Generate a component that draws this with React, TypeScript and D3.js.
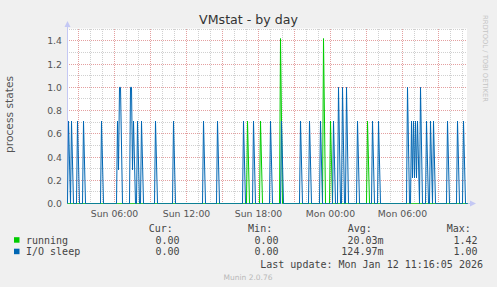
import React from "react";
import * as d3 from "d3";

// ---- data ----
const STEP_MIN = 5; // minutes per sample (one pixel per sample)
const N_SLOTS = 400;
const START = new Date(2026, 0, 11, 2, 5, 0);

const seriesNames = ["running", "I/O sleep"];
const seriesColors = ["#00CC00", "#0066B3"];

// sample index (5-minute steps since START) and value of the non-zero samples
const runningSlots = [180, 193, 213, 256, 263, 300];
const runningValues = [0.71, 0.71, 1.42, 1.42, 0.71, 0.71];

const ioSlots = [
  1, 4, 10, 16, 34, 50, 51, 52, 53, 63, 64, 65, 66, 70, 74, 88, 106, 136, 150,
  176, 186, 203, 214, 233, 242, 253, 266, 271, 275, 279, 290, 305, 311, 340,
  344, 345, 346, 347, 348, 349, 350, 353, 359, 363, 366, 380, 390, 396,
];
const ioValues = [
  0.71, 0.71, 0.71, 0.71, 0.71, 0.71, 0.29, 1.0, 1.0, 1.0, 1.0, 0.29, 0.71,
  0.71, 0.71, 0.71, 0.71, 0.71, 0.71, 0.71, 0.71, 0.71, 0.71, 0.71, 0.71, 0.71,
  0.71, 1.0, 1.0, 1.0, 0.71, 0.71, 0.71, 1.0, 0.71, 0.22, 0.71, 0.22, 0.71,
  0.22, 0.71, 1.0, 0.71, 0.71, 0.71, 0.71, 0.71, 0.71,
];

const yTickValues = [0, 0.2, 0.4, 0.6, 0.8, 1.0, 1.2, 1.4];
const yGridValues = [0.1, 0.2, 0.3, 0.4, 0.5, 0.6, 0.7, 0.8, 0.9, 1.0, 1.1, 1.2, 1.3, 1.4, 1.5];

const legendHeaders = ["Cur:", "Min:", "Avg:", "Max:"];
const curValues = ["0.00", "0.00"];
const minValues = ["0.00", "0.00"];
const avgValues = ["20.03m", "124.97m"];
const maxValues = ["1.42", "1.00"];

const titleText = "VMstat - by day";
const yTitle = "process states";
const lastUpdate = "Last update: Mon Jan 12 11:16:05 2026";
const footer = "Munin 2.0.76";
const sideText = "RRDTOOL / TOBI OETIKER";

// ---- layout ----
const W = 497;
const H = 287;
const L = 67;
const R = 467;
const FONT = "'DejaVu Sans', sans-serif";
const MONO = "'DejaVu Sans Mono', monospace";

function buildSeries(slots: number[], values: number[]) {
  const arr = new Array(N_SLOTS + 1).fill(0);
  slots.forEach((s, i) => (arr[s] = values[i]));
  return arr as number[];
}

// indices drawn as vertices: a single zero right after a spike is skipped,
// so the fall of a spike spreads over two pixels like rrdtool's rendering
function vertexIndices(arr: number[]) {
  const idx: number[] = [];
  arr.forEach((v, i) => {
    const prev = i > 0 ? arr[i - 1] : 0;
    const next = i < arr.length - 1 ? arr[i + 1] : 0;
    if (v === 0 && prev > 0 && next === 0 && i < arr.length - 1) return;
    idx.push(i);
  });
  return idx;
}

export default function App() {
  const end = d3.timeMinute.offset(START, N_SLOTS * STEP_MIN);
  const xSlot = d3.scaleLinear().domain([0, N_SLOTS]).range([L + 0.5, R + 0.5]);
  const xTime = d3.scaleTime().domain([START, end]).range([L + 0.5, R + 0.5]);
  const y = d3.scaleLinear().domain([0, 1.5]).range([203.5, 29.25]);
  const crisp = (v: number) => Math.round(v - 0.5) + 0.5;

  const running = buildSeries(runningSlots, runningValues);
  const io = buildSeries(ioSlots, ioValues);
  const pathFor = (arr: number[]) =>
    d3
      .line<number>()
      .x((i) => xSlot(i))
      .y((i) => y(arr[i]))(vertexIndices(arr)) || "";

  const hours = d3.timeHour.range(d3.timeHour.ceil(START), end);
  const fmt = d3.timeFormat("%a %H:%M");

  const colEnds = [179.5, 278.5, 383.5, 477.6];
  const headEnds = [172.8, 272.2, 371.8, 470.8];
  const rowsY = [243.5, 255];
  const cols = [curValues, minValues, avgValues, maxValues];

  return (
    <svg width={W} height={H} style={{ position: "absolute", left: 0, top: 0 }}>
      <rect x={0} y={0} width={W} height={H} fill="#F0F0F0" />
      <rect x={L} y={28.5} width={R - L} height={175} fill="#FFFFFF" />

      {/* horizontal grid */}
      {yGridValues.map((v) => {
        const major = Math.round(v * 10) % 2 === 0;
        const yy = crisp(y(v));
        return (
          <line
            key={"h" + v}
            x1={L}
            x2={R}
            y1={yy}
            y2={yy}
            stroke={major ? "#E4A0A0" : "#D0D0D0"}
            strokeDasharray="1,1"
            shapeRendering="crispEdges"
          />
        );
      })}
      {/* vertical grid */}
      {hours.map((h) => {
        const major = h.getHours() % 3 === 0;
        const xx = crisp(xTime(h));
        return (
          <line
            key={"v" + h.getTime()}
            x1={xx}
            x2={xx}
            y1={28.5}
            y2={203}
            stroke={major ? "#E4A0A0" : "#D0D0D0"}
            strokeDasharray="1,1"
            shapeRendering="crispEdges"
          />
        );
      })}

      {/* axes */}
      <line x1={L + 0.5} x2={L + 0.5} y1={203.5} y2={24} stroke="#C4C8F4" />
      <polygon points={`${L - 2.5},27 ${L + 3.5},27 ${L + 0.5},21`} fill="#C4C8F4" />
      <line x1={L} x2={471} y1={203.5} y2={203.5} stroke="#C4C8F4" />
      <polygon points={`470,200.5 470,206.5 476,203.5`} fill="#C4C8F4" />

      {/* series */}
      <path d={pathFor(running)} fill="none" stroke={seriesColors[0]} strokeWidth={1} />
      <path d={pathFor(io)} fill="none" stroke={seriesColors[1]} strokeWidth={1} />

      {/* y tick labels */}
      {yTickValues.map((v) => (
        <text
          key={"yt" + v}
          x={62}
          y={crisp(y(v))}
          dy="0.35em"
          textAnchor="end"
          fontFamily={FONT}
          fontSize={9.3}
          fill="#555"
        >
          {d3.format(".1f")(v)}
        </text>
      ))}
      {/* x tick labels */}
      {hours
        .filter((h) => h.getHours() % 6 === 0)
        .map((h) => (
          <text
            key={"xt" + h.getTime()}
            x={xTime(h)}
            y={217}
            textAnchor="middle"
            fontFamily={FONT}
            fontSize={9.3}
            fill="#555"
          >
            {fmt(h)}
          </text>
        ))}

      {/* titles */}
      <text x={248.5} y={24} textAnchor="middle" fontFamily={FONT} fontSize={12.6} fill="#333">
        {titleText}
      </text>
      <text
        transform="translate(12.5,114.5) rotate(-90)"
        textAnchor="middle"
        fontFamily={FONT}
        fontSize={10.7}
        fill="#555"
      >
        {yTitle}
      </text>
      <text
        transform="translate(483.3,15) rotate(90)"
        fontFamily={FONT}
        fontSize={6.75}
        fill="#C4C4C4"
      >
        {sideText}
      </text>

      {/* legend */}
      {legendHeaders.map((h, i) => (
        <text key={h} x={headEnds[i]} y={232} textAnchor="end" fontFamily={MONO} fontSize={10} fill="#444">
          {h}
        </text>
      ))}
      {seriesNames.map((name, r) => (
        <g key={name}>
          <rect x={14} y={rowsY[r] - 6.3} width={5.5} height={5.5} fill={seriesColors[r]} />
          <text x={26} y={rowsY[r]} fontFamily={MONO} fontSize={10} fill="#444" xmlSpace="preserve">
            {name}
          </text>
          {cols.map((c, ci) => (
            <text
              key={ci}
              x={colEnds[ci]}
              y={rowsY[r]}
              textAnchor="end"
              fontFamily={MONO}
              fontSize={10}
              fill="#444"
            >
              {c[r]}
            </text>
          ))}
        </g>
      ))}
      <text x={483} y={267.5} textAnchor="end" fontFamily={MONO} fontSize={10} fill="#444">
        {lastUpdate}
      </text>
      <text x={248} y={279.7} textAnchor="middle" fontFamily={FONT} fontSize={7.5} fill="#B8B8B8">
        {footer}
      </text>
    </svg>
  );
}
